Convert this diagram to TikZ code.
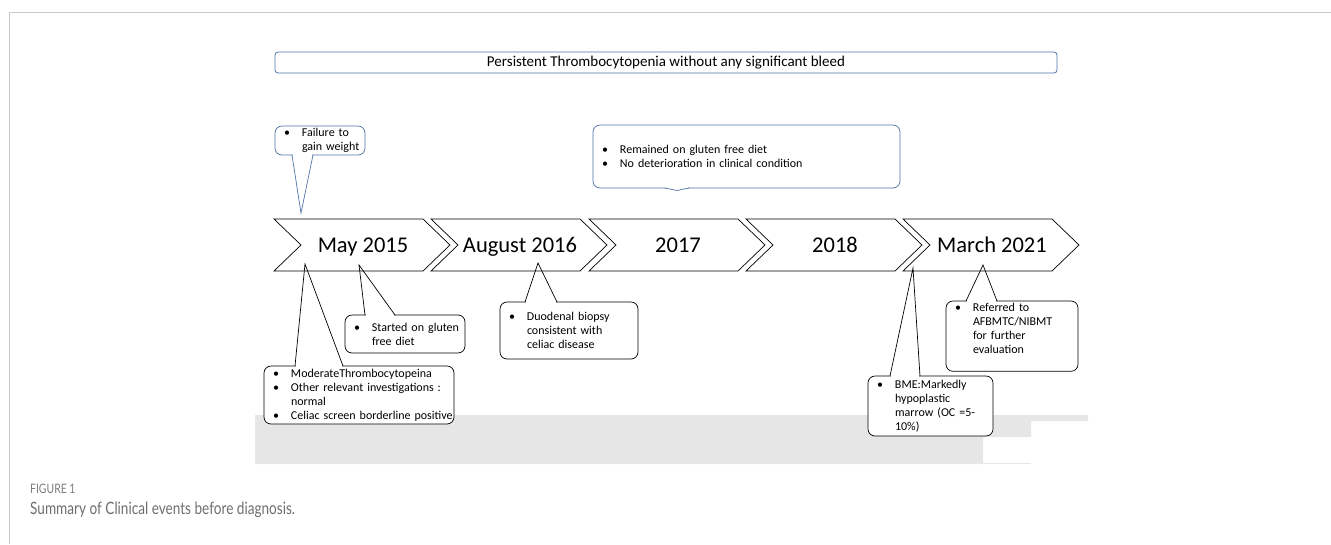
\documentclass[tikz,border=0pt]{standalone}
\usepackage{fontspec}
\setmainfont{Carlito}
\newfontfamily\capfont[FakeStretch=0.8]{Lato}
\usetikzlibrary{calc}
\definecolor{bluebd}{HTML}{4F71A8}
\definecolor{grayreg}{HTML}{E6E6E6}
\definecolor{framegray}{HTML}{C8C8C8}
\definecolor{capgray}{HTML}{6E6E6E}
\newcommand\bl[1]{\noindent\makebox[18pt][l]{\textbullet}\mbox{#1}\par}
\newcommand\cl[1]{\noindent\hspace*{18pt}\mbox{#1}\par}
\begin{document}
\begin{tikzpicture}[x=1pt,y=-1pt,
  callbox/.style={draw, rounded corners=7pt, fill=white, line width=0.7pt, outer sep=0pt,
    inner xsep=9pt, inner ysep=2pt, font=\fontsize{12}{14}\selectfont, anchor=north west},
  chev/.style={draw, line width=0.7pt, line join=miter},
  ptr/.style={line width=0.7pt},
  datelab/.style={font=\fontsize{22.5}{27}\selectfont, anchor=base}]
\useasboundingbox (0,0) rectangle (1331,544);
% frame
\draw[framegray, line width=1pt] (9,544) -- (9,12) -- (1331,12);
% gray region
\fill[grayreg] (255,415) -- (1088,415) -- (1088,421) -- (1031,421) -- (1031,437) -- (983,437) -- (983,464) -- (255,464) -- cycle;
\fill[grayreg] (983,462.5) rectangle (1031,464);
% banner
\node[draw=bluebd, rounded corners=3pt, minimum width=782, minimum height=21, anchor=north west,
  outer sep=0pt, line width=0.8pt, font=\fontsize{15}{16}\selectfont] (banner) at (275,52)
  {Persistent Thrombocytopenia without any significant bleed};
% chevrons
\foreach \x/\lab/\nm in {274/May 2015/c1, 431/August 2016/c2, 589/2017/c3, 746/2018/c4, 903/March 2021/c5}{
  \draw[chev] (\x,219) -- ++(149,0) -- ++(27,26) -- ++(-27,26) -- ++(-149,0) -- ++(27,-26) -- cycle;
  \node[datelab] (\nm) at (\x+89,252) {\lab};
}
% pointer tips
\coordinate (tf) at (301,213);
\coordinate (ts) at (359,265);
\coordinate (tm) at (305,264);
\coordinate (td) at (538,263);
\coordinate (tb) at (913,268);
\coordinate (tr) at (983,265);
\coordinate (tg) at (677,190.5);
% top callouts (blue)
\node[callbox, draw=bluebd, minimum width=90, minimum height=29, text width=72] (fail) at (275,126)
  {\bl{Failure to}\cl{gain weight}};
\fill[white] ($(fail.south west)+(17.6,-1)$) rectangle ($(fail.south west)+(37.4,1)$);
\draw[ptr, bluebd] ($(fail.south west)+(17,0)$) -- (tf) -- ($(fail.south west)+(38,0)$);
\node[callbox, draw=bluebd, minimum width=307, minimum height=63, text width=289] (rem) at (593,125)
  {\bl{Remained on gluten free diet}\bl{No deterioration in clinical condition}};
\fill[white] ($(rem.south west)+(72.6,-1)$) rectangle ($(rem.south west)+(95.4,1)$);
\draw[ptr, bluebd] ($(rem.south west)+(72,0)$) -- (tg) -- ($(rem.south west)+(96,0)$);
% bottom callouts (black)
\node[callbox, minimum width=120, minimum height=38, text width=102] (start) at (345,315)
  {\bl{Started on gluten}\cl{free diet}};
\fill[white] ($(start.north west)+(20.6,-1)$) rectangle ($(start.north west)+(49.4,1)$);
\draw[ptr] ($(start.north west)+(20,0)$) -- (ts) -- ($(start.north west)+(50,0)$);
\node[callbox, minimum width=190, minimum height=58, text width=172] (mod) at (264,366)
  {\bl{ModerateThrombocytopeina}\bl{Other relevant investigations :}\cl{normal}\bl{Celiac screen borderline positive}};
\fill[white] ($(mod.north west)+(31.6,-1)$) rectangle ($(mod.north west)+(78.4,1)$);
\draw[ptr] ($(mod.north west)+(31,0)$) -- (tm) -- ($(mod.north west)+(79,0)$);
\node[callbox, minimum width=138, minimum height=57, text width=120] (duo) at (500,302)
  {\bl{Duodenal biopsy}\cl{consistent with}\cl{celiac disease}};
\fill[white] ($(duo.north west)+(25.6,-1)$) rectangle ($(duo.north west)+(56.4,1)$);
\draw[ptr] ($(duo.north west)+(25,0)$) -- (td) -- ($(duo.north west)+(57,0)$);
\node[callbox, minimum width=125, minimum height=60, text width=107] (bme) at (868,376)
  {\bl{BME:Markedly}\cl{hypoplastic}\cl{marrow (OC =5-}\cl{10\%)}};
\fill[white] ($(bme.north west)+(22.6,-1)$) rectangle ($(bme.north west)+(51.4,1)$);
\draw[ptr] ($(bme.north west)+(22,0)$) -- (tb) -- ($(bme.north west)+(52,0)$);
\node[callbox, minimum width=132, minimum height=66, text width=114] (ref) at (946,301)
  {\bl{Referred to}\cl{AFBMTC/NIBMT}\cl{for further}\cl{evaluation\rule[-16pt]{0pt}{0pt}}};
\fill[white] ($(ref.north west)+(20.6,-1)$) rectangle ($(ref.north west)+(50.4,1)$);
\draw[ptr] ($(ref.north west)+(20,0)$) -- (tr) -- ($(ref.north west)+(51,0)$);
% caption
\node[anchor=base west, inner sep=0pt, font=\capfont\fontsize{13}{15}\selectfont, text=capgray!90] (fig) at (30,493) {FIGURE 1};
\node[anchor=base west, inner sep=0pt, font=\capfont\fontsize{17}{19}\selectfont, text=capgray] (cap) at (30,514) {Summary of Clinical events before diagnosis.};
\end{tikzpicture}
\end{document}
